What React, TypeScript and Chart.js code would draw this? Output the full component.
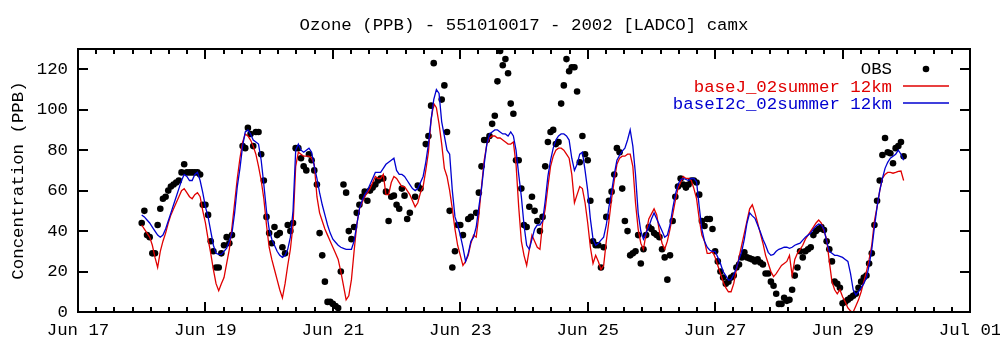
import React, { useEffect, useRef } from 'react';
import { Chart, registerables } from 'chart.js';

Chart.register(...registerables);

const TITLE = 'Ozone (PPB) - 551010017 - 2002 [LADCO] camx';
const Y_TITLE = 'Concentration (PPB)';
const X_TICK_DAYS = [17, 19, 21, 23, 25, 27, 29, 31];
const X_TICK_LABELS = ['Jun 17', 'Jun 19', 'Jun 21', 'Jun 23', 'Jun 25', 'Jun 27', 'Jun 29', 'Jul 01'];
const Y_TICKS = [0, 20, 40, 60, 80, 100, 120];
const SERIES_NAMES = ['OBS', 'baseJ_02summer 12km', 'baseI2c_02summer 12km'];

// hourly values starting Jun 18 00:00 (day number 18)
const START_DAY = 18;

const OBS: (number | null)[] = [
  44, 50, 38, 37, 29, 29, 43, 51, 56, 57, 60, 62, 63, 64, 65, 69, 73, 69, 69, 69, 69, 69, 68, 53,
  53, 48, 35, 30, 22, 22, 29, 33, 37, 34, 38, null, null, null, 82, 81, 91, 88, 82, 89, 89, 78, 65, 47,
  39, 34, 42, 38, 39, 32, 29, 43, 40, 44, 81, 81, 76, 72, 70, 78, 75, 70, 63, 39, 28, 15, 5, 5,
  4, 3, 2, 20, 63, 59, 40, 36, 42, 49, 53, 57, 59.5, 55, 60, 61.5, 63, 65, 66, 66, 59.5, 45, 57, 57.5,
  53, 51, 61, 57.5, 46, 49, null, 57, 62.5, 61, null, 83, 87, 102, 123, null, null, 105, 112, 89, 50, 22, 30, 43,
  43, 38, null, 46, 47, null, 49, 59, 72, 85, 85, 87, 93, 97, 114, 129, 122, 125, 118, 103, 98, 75, 75, 61,
  43, 42, 52, 57, 50, 45, 40, 47, 72, 84, 89, 90, 83, 84, 103, 112, 125, 119, 121, 121, 109, 74, 87, 78,
  75, 55, 35, 33, 33, 22, 32, 47, 55, 59.5, 68, 81, 79, 61, 45, 40, 28, 29, 30, 38, 24, 31, 38, 42,
  41, 39, 38, 37, 31, 27, 16, 28, 45, 57, 62, 66, 63, 61.5, 63, 65, 65, 64, 58, 45, 42.5, 46, 46, 41,
  30, 25, 20, 17, 14, 15, 17, 18, 22, 23.5, 27, 29.5, 27, 26.5, 26, 25, 26, 24.5, 23.5, 19, 19, 15, 13, 9,
  4, 4, 7, 5.5, 6, 11, 18, 22, 30, 27, 30, 31, 32, 38, 40, 41, 42, 40.5, 35, 31, 25, 15, 14, 12,
  4.3, 5, 6, 7, 8, 9, 12, 15, 17, 18, 24, 29, 43, 55, 65, 77.6, 86, 79, 78.5, 73.5, 81, 82, 84, 77,
];

const BASE_J: number[] = [
  43, 41, 39, 37, 33, 27, 22, 30, 35, 39, 44, 48, 51, 54, 57, 60, 61, 59, 57, 56, 58, 59, 57, 50,
  44, 36, 29, 21, 14, 10.5, 14, 17, 24, 31, 42, 54, 66, 76, 84, 88, 87, 85, 82, 78, 72, 65, 56, 43,
  32, 26, 21, 16, 11, 7, 14, 23, 31, 43, 72, 79, 78, 77, 77, 77, 76, 73, 57, 49, 45, 41, 38, 35,
  32, 29, 26, 20, 13, 6, 8, 16, 30, 43, 51, 54, 57, 59, 61, 64, 67, 66, 66, 68, 58, 58, 64, 67,
  66, 64, 62, 62, 60, 58, 55, 52, 54, 59, 62, 70, 79, 95, 103, 101, 93, 83, 71, 67, 60, 51, 41, 33,
  28, 23, 25, 28, 34, 38, 37, 48, 62, 75, 83, 86, 87, 87, 86, 86, 85, 84, 83, 83, 84, 73, 52, 35,
  28, 23, 31, 38, 35, 32, 31, 44, 51, 62, 72, 77, 80, 81, 81, 80, 78, 76, 68, 54, 58, 62, 61, 54,
  44, 32, 24, 28, 25, 21, 23, 35, 45, 56, 65, 73, 76, 77, 77, 78, 78, 72, 54, 41, 34, 31, 39, 46,
  48.5, 51, 48, 40, 34, 31, 35, 41, 48, 55, 61, 64, 67, 66, 66, 65, 61, 56, 46, 38, 35, 29, 29, 30,
  27, 23, 19, 15, 12, 10, 10, 14, 21, 27, 33, 39, 45, 51, 53, 49, 44, 39, 34, 28, 24, 20, 17.5, 19,
  21, 23, 24, 25, 28, 18, 26, 29, 31, 33, 36, 38, 40, 42, 44, 45.5, 44, 40, 36, 25, 15, 11, 9, 11,
  7.5, 5, 2, 0.5, 0, 3, 6, 10, 15, 20, 26, 33, 45, 52, 60, 66, 68, 69, 69, 68.6, 69, 69.5, 69.7, 65,
];

const BASE_I2C: number[] = [
  48, 47, 45.5, 44, 42, 40, 38, 37, 38, 41, 45, 49, 53, 57, 61, 65, 68, 67, 65, 65, 68, 69, 65, 59,
  52, 47, 40, 33, 29, 28.5, 28.5, 30, 31.5, 35, 39, 49, 62, 71, 82, 89, 90, 88, 85, 84, 83, 75, 63, 50,
  41, 36, 33, 30, 28, 27, 28, 31, 37, 50, 80, 83, 80, 79, 80, 81, 79, 72, 66, 59, 53, 48, 43, 39,
  36, 34.5, 33, 32, 31.5, 31, 31, 31, 35, 43, 51, 55, 58, 60, 63, 66, 69, 69, 69, 71, 73, 74, 75, 76,
  70, 68, 68, 67, 65, 63, 61, 60, 61, 64, 67, 74, 83, 95, 105, 110, 108, 94, 87, 80, 78, 60, 47, 43,
  38, 32, 25, 29, 35, 37, 42, 52, 61, 73, 83, 88, 89, 90, 90, 89, 88, 88, 87, 89, 87, 80, 68, 57,
  43, 33, 31, 36, 41, 43, 43, 45, 55, 67, 75, 81, 85, 87, 88, 88, 87, 85, 76, 70, 73, 78, 79, 70,
  60, 46, 36, 33, 34, 35.5, 37, 43, 52, 59.5, 68, 75, 77.5, 79.5, 81, 85, 90, 82, 68, 49, 40, 36, 39, 42,
  46, 49, 46, 43, 40, 37, 38, 43, 51, 58, 63, 65.5, 66, 65.5, 65, 66, 66, 64.4, 52, 41, 35, 32, 30.5, 30,
  30, 27, 24, 20, 18, 15.8, 16, 18.5, 21.6, 26, 29.8, 36, 44, 49, 47.5, 46.3, 43, 39.7, 36, 33, 29.5, 28, 28.5, 30,
  31, 31.5, 32, 32, 31.5, 32, 33, 33.5, 34, 35.5, 37, 38, 39, 41, 42.5, 43.5, 43, 41, 35, 30, 29, 28, 28, 27.5,
  27, 26, 25, 19, 11, 8.5, 10, 12, 14, 17, 23, 31, 42, 52, 60, 66, 71, 74, 76, 77, 78, 80, 78, 75,
];

const COLORS = { obs: '#000000', baseJ: '#e00000', baseI2c: '#0000d0' };
const FONT = '17.4px "Liberation Mono", "DejaVu Sans Mono", monospace';

const toPoints = (vals: (number | null)[]) =>
  vals
    .map((v, i) => (v == null ? null : { x: START_DAY + i / 24, y: v }))
    .filter((p) => p !== null) as { x: number; y: number }[];

const gnuplotPlugin = {
  id: 'gnuplotFrame',
  afterDatasetsDraw(chart: any) {
    const { ctx, chartArea: a, scales } = chart;
    const xs = scales.x;
    const ys = scales.y;
    ctx.save();
    ctx.strokeStyle = '#000';
    ctx.lineWidth = 2;
    ctx.beginPath();
    const majors: number[] = xs.ticks.map((t: any) => t.value);
    majors.forEach((v) => {
      const px = Math.round(xs.getPixelForValue(v));
      ctx.moveTo(px, a.bottom);
      ctx.lineTo(px, a.bottom - 10);
      ctx.moveTo(px, a.top);
      ctx.lineTo(px, a.top + 10);
    });
    for (let i = 0; i < majors.length - 1; i++) {
      for (let k = 1; k < 7; k++) {
        const v = majors[i] + ((majors[i + 1] - majors[i]) * k) / 7;
        const px = Math.round(xs.getPixelForValue(v));
        ctx.moveTo(px, a.bottom);
        ctx.lineTo(px, a.bottom - 5);
        ctx.moveTo(px, a.top);
        ctx.lineTo(px, a.top + 5);
      }
    }
    ys.ticks.forEach((t: any) => {
      const py = Math.round(ys.getPixelForValue(t.value));
      ctx.moveTo(a.left, py);
      ctx.lineTo(a.left + 10, py);
      ctx.moveTo(a.right, py);
      ctx.lineTo(a.right - 10, py);
    });
    ctx.stroke();
    ctx.strokeRect(a.left, a.top, a.right - a.left, a.bottom - a.top);

    ctx.fillStyle = '#000';
    ctx.font = FONT;
    ctx.textBaseline = 'middle';
    ctx.textAlign = 'center';
    xs.ticks.forEach((t: any, i: number) => {
      ctx.fillText(X_TICK_LABELS[i], xs.getPixelForValue(t.value), a.bottom + 18);
    });
    ctx.textAlign = 'right';
    ys.ticks.forEach((t: any) => {
      ctx.fillText(String(t.value), a.left - 10, ys.getPixelForValue(t.value));
    });
    ctx.textAlign = 'center';
    ctx.fillText(TITLE, (a.left + a.right) / 2, 25);
    ctx.save();
    ctx.translate(18, (a.top + a.bottom) / 2);
    ctx.rotate(-Math.PI / 2);
    ctx.fillText(Y_TITLE, 0, 0);
    ctx.restore();

    // legend (top right, inside)
    const tx = a.right - 78;
    const lx0 = a.right - 67;
    const lx1 = a.right - 21;
    const rows = [a.top + 20, a.top + 38, a.top + 55];
    ctx.textAlign = 'right';
    ctx.fillStyle = COLORS.obs;
    ctx.fillText(SERIES_NAMES[0], tx, rows[0]);
    ctx.beginPath();
    ctx.arc((lx0 + lx1) / 2, rows[0], 3.3, 0, Math.PI * 2);
    ctx.fill();
    ctx.fillStyle = COLORS.baseJ;
    ctx.fillText(SERIES_NAMES[1], tx, rows[1]);
    ctx.fillStyle = COLORS.baseI2c;
    ctx.fillText(SERIES_NAMES[2], tx, rows[2]);
    ctx.lineWidth = 1.3;
    ctx.strokeStyle = COLORS.baseJ;
    ctx.beginPath();
    ctx.moveTo(lx0, rows[1] - 1);
    ctx.lineTo(lx1, rows[1] - 1);
    ctx.stroke();
    ctx.strokeStyle = COLORS.baseI2c;
    ctx.beginPath();
    ctx.moveTo(lx0, rows[2] - 1);
    ctx.lineTo(lx1, rows[2] - 1);
    ctx.stroke();
    ctx.restore();
  },
};

export default function App() {
  const ref = useRef<HTMLCanvasElement | null>(null);
  useEffect(() => {
    if (!ref.current) return;
    const chart = new Chart(ref.current, {
      type: 'scatter',
      data: {
        datasets: [
          {
            label: SERIES_NAMES[0],
            data: toPoints(OBS),
            showLine: false,
            pointRadius: 3.3,
            pointHoverRadius: 3.3,
            pointBackgroundColor: COLORS.obs,
            pointBorderWidth: 0,
            order: 3,
          },
          {
            label: SERIES_NAMES[1],
            data: toPoints(BASE_J),
            showLine: true,
            borderColor: COLORS.baseJ,
            borderWidth: 1.3,
            pointRadius: 0,
            tension: 0,
            order: 2,
          },
          {
            label: SERIES_NAMES[2],
            data: toPoints(BASE_I2C),
            showLine: true,
            borderColor: COLORS.baseI2c,
            borderWidth: 1.3,
            pointRadius: 0,
            tension: 0,
            order: 1,
          },
        ],
      },
      options: {
        animation: false,
        responsive: false,
        devicePixelRatio: 1,
        layout: { padding: { top: 49, right: 30, left: 0, bottom: 0 } },
        plugins: { legend: { display: false }, tooltip: { enabled: false }, title: { display: false } },
        scales: {
          x: {
            type: 'linear',
            min: X_TICK_DAYS[0],
            max: X_TICK_DAYS[X_TICK_DAYS.length - 1],
            afterBuildTicks: (s: any) => {
              s.ticks = X_TICK_DAYS.map((v) => ({ value: v }));
            },
            afterFit: (s: any) => {
              s.height = 35;
            },
            ticks: { display: false },
            grid: { display: false },
            border: { display: false },
          },
          y: {
            type: 'linear',
            min: 0,
            max: 130,
            afterBuildTicks: (s: any) => {
              s.ticks = Y_TICKS.map((v) => ({ value: v }));
            },
            afterFit: (s: any) => {
              s.width = 78;
            },
            ticks: { display: false },
            grid: { display: false },
            border: { display: false },
          },
        },
      },
      plugins: [gnuplotPlugin],
    } as any);
    return () => chart.destroy();
  }, []);
  return (
    <div style={{ position: 'absolute', left: 0, top: 0, width: 1000, height: 347, background: '#fff' }}>
      <canvas ref={ref} width={1000} height={347} style={{ display: 'block' }} />
    </div>
  );
}
